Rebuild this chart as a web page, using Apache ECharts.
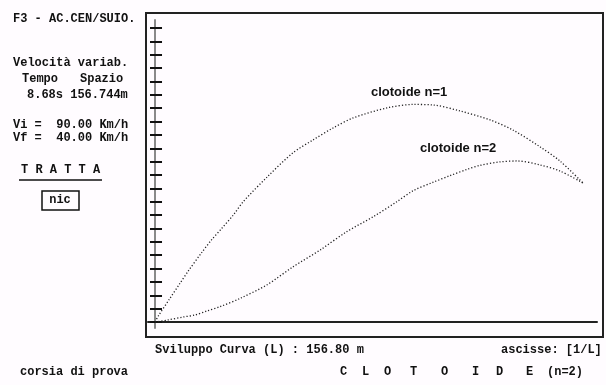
<!DOCTYPE html>
<html><head><meta charset="utf-8">
<script src="https://cdn.jsdelivr.net/npm/echarts@6/dist/echarts.min.js"></script>
<style>html,body{margin:0;padding:0;background:#fffcff}#c{width:606px;height:385px}</style>
</head><body><div id="c"></div>
<script>
// Curve data (x normalized abscissa 1/L, y in chart tick units)
var curve1X = [0, 0.0077, 0.0334, 0.0584, 0.0778, 0.109, 0.132, 0.156, 0.183, 0.206, 0.262, 0.322, 0.369, 0.416, 0.463, 0.542, 0.603, 0.650, 0.713, 0.783, 0.836, 0.900, 0.946, 1.0];
var curve1Y = [0, 0.45, 1.70, 2.90, 3.82, 5.19, 6.14, 7.01, 8.01, 9.00, 10.85, 12.65, 13.62, 14.52, 15.27, 16.02, 16.28, 16.24, 15.79, 15.12, 14.37, 13.10, 12.05, 10.40];
var curve2X = [0, 0.030, 0.065, 0.093, 0.121, 0.152, 0.199, 0.261, 0.323, 0.386, 0.448, 0.510, 0.565, 0.603, 0.650, 0.689, 0.729, 0.759, 0.806, 0.846, 0.900, 0.946, 1.0];
var curve2Y = [0, 0.15, 0.37, 0.52, 0.82, 1.15, 1.77, 2.77, 4.14, 5.39, 6.76, 7.88, 9.00, 9.82, 10.46, 10.95, 11.42, 11.72, 11.98, 12.05, 11.75, 11.30, 10.40];
var yTickValues = [0,1,2,3,4,5,6,7,8,9,10,11,12,13,14,15,16,17,18,19,20,21,22];
var seriesNames = ['clotoide n=1', 'clotoide n=2'];

var panelLines = [
  ['F3 - AC.CEN/SUIO.', 13, 19],
  ['Velocità variab.', 13, 63],
  ['Tempo', 22, 79],
  ['Spazio', 80, 79],
  ['8.68s 156.744m', 27, 95],
  ['Vi =  90.00 Km/h', 13, 125],
  ['Vf =  40.00 Km/h', 13, 138],
  ['T R A T T A', 21, 170],
  ['Sviluppo Curva (L) : 156.80 m', 155, 350],
  ['ascisse: [1/L]', 501, 350],
  ['corsia di prova', 20, 372]
];
var clotLetters = ['C','L','O','T','O','I','D','E','(n=2)'];
var clotX = [340, 362, 384, 410, 441, 472, 496, 526, 547];

function zip(a, b){ return a.map(function(v,i){ return [v, b[i]]; }); }

var mono = 'bold 12px "Liberation Mono", "DejaVu Sans Mono", monospace';
var graphics = [];
graphics.push({type:'rect', shape:{x:146, y:13, width:457, height:324}, style:{fill:null, stroke:'#222', lineWidth:2}, z:-1});
panelLines.forEach(function(p){
  graphics.push({type:'text', x:p[1], y:p[2], style:{text:p[0], font:mono, fill:'#111', verticalAlign:'middle', align:'left'}});
});
clotLetters.forEach(function(t,i){
  graphics.push({type:'text', x:clotX[i], y:372, style:{text:t, font:mono, fill:'#111', verticalAlign:'middle', align:'left'}});
});
graphics.push({type:'line', shape:{x1:19, y1:180, x2:102, y2:180}, style:{stroke:'#111', lineWidth:1.5}});
graphics.push({type:'rect', shape:{x:42, y:191, width:37, height:19}, style:{fill:null, stroke:'#111', lineWidth:1.5}});
graphics.push({type:'text', x:60, y:200, style:{text:'nic', font:mono, fill:'#111', verticalAlign:'middle', align:'center'}});
var labFont = 'bold 13px "Liberation Sans Narrow", "Liberation Sans", Arial, sans-serif';
graphics.push({type:'text', x:371, y:92, style:{text:seriesNames[0], font:labFont, fill:'#111', verticalAlign:'middle'}});
graphics.push({type:'text', x:420, y:148, style:{text:seriesNames[1], font:labFont, fill:'#111', verticalAlign:'middle'}});

var chart = echarts.init(document.getElementById('c'), null, {renderer:'canvas'});
chart.setOption({
  backgroundColor:'#fffcff',
  animation:false,
  grid:{left:148, right:9, top:20, bottom:57},
  xAxis:{type:'value', min:-0.0164, max:1.0327,
    axisLine:{onZero:true, lineStyle:{color:'#222', width:2}},
    axisTick:{show:false}, axisLabel:{show:false}, splitLine:{show:false}},
  yAxis:[
    {type:'value', min:-0.45, max:22.6,
      axisLine:{show:true, onZero:true, lineStyle:{color:'#8a8a8a', width:2}},
      axisTick:{show:true, inside:true, length:7, customValues:yTickValues, lineStyle:{color:'#111', width:2}},
      axisLabel:{show:false}, splitLine:{show:false}},
    {type:'value', min:-0.45, max:22.6, position:'left', offset:-7,
      axisLine:{show:false, onZero:false},
      axisTick:{show:true, inside:false, length:5, customValues:yTickValues, lineStyle:{color:'#111', width:2}},
      axisLabel:{show:false}, splitLine:{show:false}}
  ],
  series:[
    {name:seriesNames[0], type:'line', smooth:0.3, symbol:'none', data:zip(curve1X, curve1Y),
      lineStyle:{color:'#222', width:1.3, type:[1.2,2]}},
    {name:seriesNames[1], type:'line', smooth:0.3, symbol:'none', data:zip(curve2X, curve2Y),
      lineStyle:{color:'#222', width:1.3, type:[1.2,2]}}
  ],
  graphic:graphics
});
</script></body></html>
